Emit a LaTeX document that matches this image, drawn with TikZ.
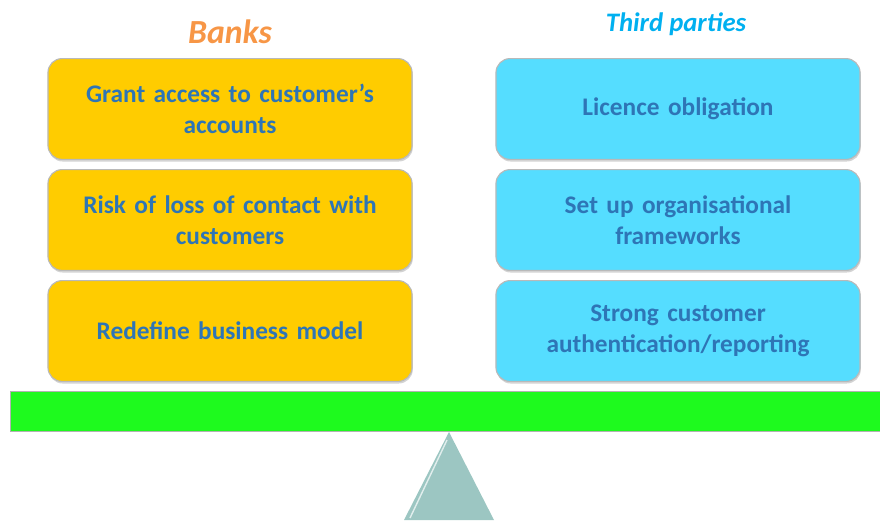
\documentclass[tikz,border=0pt]{standalone}
\usepackage{fontspec}
\setmainfont{Carlito}
\usetikzlibrary{shadows,positioning}

\definecolor{bankfill}{HTML}{FFCC00}
\definecolor{thirdfill}{HTML}{55DDFF}
\definecolor{boxtext}{HTML}{2E75B6}
\definecolor{bankhead}{HTML}{F79646}
\definecolor{thirdhead}{HTML}{00B0F0}
\definecolor{beamfill}{HTML}{1EFA1E}
\definecolor{pivotfill}{HTML}{9CC6C2}

\tikzset{
    dutybox/.style={draw=gray!55, line width=0.8pt, rectangle, rounded corners=10pt,
        minimum width=9.1cm, minimum height=2.52cm, align=center, text width=8.8cm,
        font=\fontsize{18}{22}\selectfont\bfseries, text=boxtext,
        drop shadow={shadow xshift=0.5pt, shadow yshift=-1.5pt, opacity=0.35}},
    headline/.style={font=\fontsize{24}{28}\selectfont\bfseries\itshape}
}

\begin{document}
\begin{tikzpicture}[x=0.025cm, y=-0.025cm]
    \useasboundingbox (0,0) rectangle (880,520);

    % column headings
    \node[headline, text=bankhead] (banks) at (230,32) {Banks};
    \node[headline, text=thirdhead, font=\fontsize{19}{22}\selectfont\bfseries\itshape] (third) at (676,24) {Third parties};

    % left column: banks
    \node[dutybox, fill=bankfill] (bank1) at (230,109) {Grant access to customer’s\\accounts};
    \node[dutybox, fill=bankfill] (bank2) at (230,220) {Risk of loss of contact with\\customers};
    \node[dutybox, fill=bankfill] (bank3) at (230,331) {Redefine business model};

    % right column: third parties
    \node[dutybox, fill=thirdfill] (third1) at (678,109) {Licence obligation};
    \node[dutybox, fill=thirdfill] (third2) at (678,220) {Set up organisational\\frameworks};
    \node[dutybox, fill=thirdfill] (third3) at (678,331) {Strong customer\\authentication/reporting};

    % the balance
    \node[draw=gray!60, line width=0.8pt, fill=beamfill, rectangle, minimum width=21.9cm, minimum height=1cm,
        anchor=north west, inner sep=0pt] (beam) at (10,391) {};
    \fill[pivotfill] (449,432) -- (404,520) -- (494,520) -- cycle;
    \draw[white!70!pivotfill, line width=1pt] (447,440) -- (410,518);
\end{tikzpicture}
\end{document}
